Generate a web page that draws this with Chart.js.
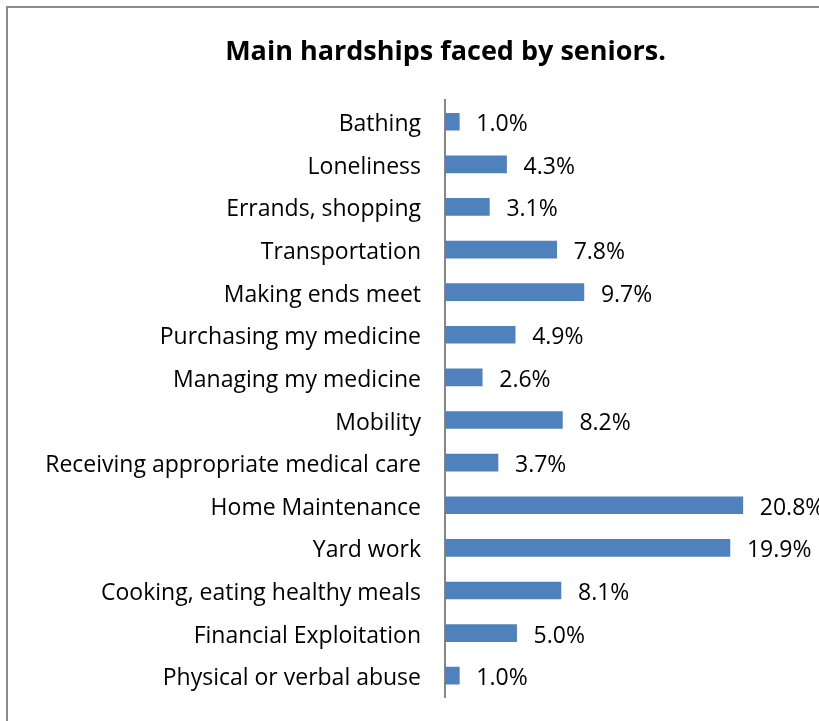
<!DOCTYPE html>
<html>
<head>
<meta charset="utf-8">
<title>Main hardships faced by seniors.</title>
<script src="https://cdn.jsdelivr.net/npm/chart.js@4.4.1/dist/chart.umd.min.js"></script>
<style>
    html, body { margin: 0; padding: 0; background: #fff; overflow: hidden; }
    #wrap { position: relative; width: 819px; height: 721px; overflow: hidden; }
    #frame {
        position: absolute; left: 6px; top: 6px;
        width: 900px; height: 800px;
        border: 2px solid #8a8a8a;
        pointer-events: none;
    }
    canvas { position: absolute; left: 0; top: 0; }
</style>
</head>
<body>
<div id="wrap">
    <canvas id="hardshipChart" width="891" height="721"></canvas>
    <div id="frame"></div>
</div>
<script>
// Données
const hardships = [
    'Bathing',
    'Loneliness',
    'Errands, shopping',
    'Transportation',
    'Making ends meet',
    'Purchasing my medicine',
    'Managing my medicine',
    'Mobility',
    'Receiving appropriate medical care',
    'Home Maintenance',
    'Yard work',
    'Cooking, eating healthy meals',
    'Financial Exploitation',
    'Physical or verbal abuse'
];
const shares = [1.0, 4.3, 3.1, 7.8, 9.7, 4.9, 2.6, 8.2, 3.7, 20.8, 19.9, 8.1, 5.0, 1.0];

const FONT = '"Open Sans", "Liberation Sans", sans-serif';

// Étiquettes de valeur à droite des barres
const valueLabels = {
    id: 'valueLabels',
    afterDatasetsDraw(chart) {
        const ctx = chart.ctx;
        const meta = chart.getDatasetMeta(0);
        ctx.save();
        ctx.font = '23px ' + FONT;
        ctx.fillStyle = '#000';
        ctx.textAlign = 'left';
        ctx.textBaseline = 'middle';
        meta.data.forEach((bar, i) => {
            ctx.fillText(shares[i].toFixed(1) + '%', bar.x + 17, bar.y + 3);
        });
        ctx.restore();
    }
};

const ctx = document.getElementById('hardshipChart').getContext('2d');
new Chart(ctx, {
    type: 'bar',
    data: {
        labels: hardships,
        datasets: [{
            data: shares,
            backgroundColor: '#4f81bd',
            borderWidth: 0,
            barThickness: 17
        }]
    },
    options: {
        indexAxis: 'y',
        responsive: false,
        animation: false,
        layout: { padding: { left: 0, right: 0, top: 0, bottom: 24 } },
        plugins: {
            legend: { display: false },
            tooltip: { enabled: false },
            title: {
                display: true,
                text: 'Main hardships faced by seniors.',
                color: '#000',
                font: { family: FONT, size: 27, weight: 'bold' },
                padding: { top: 36, bottom: 32 }
            }
        },
        scales: {
            x: {
                display: false,
                min: 0,
                max: 31.15
            },
            y: {
                afterFit(scale) {
                    scale.width = 445;
                    scale.paddingTop = 0;
                    scale.paddingBottom = 0;
                },
                grid: { display: false, drawTicks: false },
                border: { display: true, color: '#878787', width: 2 },
                ticks: {
                    color: '#000',
                    padding: 24,
                    labelOffset: 3,
                    font: { family: FONT, size: 23 }
                }
            }
        }
    },
    plugins: [valueLabels]
});
</script>
</body>
</html>
